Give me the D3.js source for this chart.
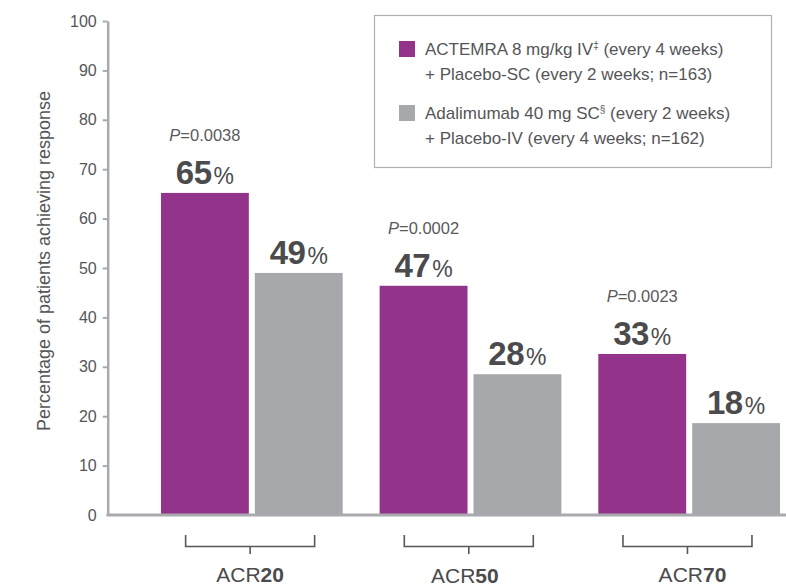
<!DOCTYPE html>
<html>
<head>
<meta charset="utf-8">
<script src="https://cdn.jsdelivr.net/npm/d3@7"></script>
<style>
  html, body { margin: 0; padding: 0; background: #fff; }
  svg { display: block; font-family: "Liberation Sans", Arial, sans-serif; }
</style>
</head>
<body>
<svg id="chart" width="786" height="586"></svg>
<script>
// ---- data ----
const categories = ["ACR20", "ACR50", "ACR70"];
const categoryPrefix = ["ACR", "ACR", "ACR"];
const categoryNumber = ["20", "50", "70"];
const seriesKeys = ["actemra", "adalimumab"];
const actemraValues = [65.2, 46.4, 32.6];
const adalimumabValues = [49.0, 28.5, 18.6];
const actemraLabels = ["65", "47", "33"];
const adalimumabLabels = ["49", "28", "18"];
const pValues = ["=0.0038", "=0.0002", "=0.0023"];
const yTicks = [0, 10, 20, 30, 40, 50, 60, 70, 80, 90, 100];
const legendLines = [
  [{t: "ACTEMRA 8 mg/kg IV"}, {t: "‡", sup: true}, {t: " (every 4 weeks)"}],
  [{t: "+ Placebo-SC (every 2 weeks; n=163)"}],
  [{t: "Adalimumab 40 mg SC"}, {t: "§", sup: true}, {t: " (every 2 weeks)"}],
  [{t: "+ Placebo-IV (every 4 weeks; n=162)"}]
];
const yTitle = "Percentage of patients achieving response";

const colors = { actemra: "#93338a", adalimumab: "#a7a8ab" };
const textColor = "#555558";
const axisColor = "#a9aaad";

const svg = d3.select("#chart");

const y = d3.scaleLinear().domain([0, 100]).range([515, 21]);
const x0 = d3.scaleBand().domain(categories).range([142.5, 798.5])
  .paddingInner(37 / 219).paddingOuter(37 / 219 / 2);
const x1 = d3.scaleBand().domain(seriesKeys).range([0, x0.bandwidth()])
  .paddingInner(6 / 94).paddingOuter(0);
const center = c => x0(c) + x0.bandwidth() / 2;

const rows = categories.map((c, i) => ({
  cat: c,
  values: [
    { key: "actemra", v: actemraValues[i], label: actemraLabels[i] },
    { key: "adalimumab", v: adalimumabValues[i], label: adalimumabLabels[i] }
  ],
  p: pValues[i]
}));

// Y axis
const yAxis = d3.axisLeft(y).tickValues(yTicks).tickSize(5).tickSizeOuter(0).tickPadding(6);
const gy = svg.append("g").attr("transform", "translate(107.7,0)").call(yAxis);
gy.select(".domain").attr("stroke", axisColor).attr("stroke-width", 2.5);
gy.selectAll(".tick line").attr("stroke", axisColor).attr("stroke-width", 2)
  .filter(d => d === 0).remove();
gy.selectAll(".tick text").attr("fill", textColor).style("font-size", "16px")
  .style("font-family", "'Liberation Sans', Arial, sans-serif");

// Y title
svg.append("text")
  .attr("transform", `translate(50,261) rotate(-90)`)
  .attr("text-anchor", "middle")
  .attr("fill", textColor)
  .style("font-size", "18px")
  .text(yTitle);

// Bars
const groups = svg.append("g").selectAll("g").data(rows).join("g")
  .attr("transform", d => `translate(${x0(d.cat)},0)`);

groups.selectAll("rect").data(d => d.values).join("rect")
  .attr("x", d => x1(d.key))
  .attr("y", d => y(d.v))
  .attr("width", x1.bandwidth())
  .attr("height", d => y(0) - y(d.v))
  .attr("fill", d => colors[d.key]);

// Value labels
const vl = groups.selectAll("text.val").data(d => d.values).join("text")
  .attr("class", "val")
  .attr("x", d => x1(d.key) + x1.bandwidth() / 2)
  .attr("y", d => y(d.v) - 9)
  .attr("text-anchor", "middle")
  .attr("fill", "#4b4b4d");
vl.append("tspan").style("font-size", "33px").style("font-weight", "bold")
  .style("letter-spacing", "-0.5px").text(d => d.label);
vl.append("tspan").style("font-size", "23px").attr("dx", 2).text("%");

// P values
const pl = groups.append("text")
  .attr("x", x1("actemra") + x1.bandwidth() / 2)
  .attr("y", d => y(d.values[0].v) - 52)
  .attr("text-anchor", "middle")
  .attr("fill", "#5a5a5c")
  .style("font-size", "16.5px");
pl.append("tspan").style("font-style", "italic").text("P");
pl.append("tspan").text(d => d.p);

// Bottom axis line
svg.append("line")
  .attr("x1", 107.7 - 1.25).attr("x2", 786)
  .attr("y1", y(0)).attr("y2", y(0))
  .attr("stroke", axisColor).attr("stroke-width", 3);

// Category brackets
const labelShift = [0, -4, 5];
const labelBase = [581.5, 583, 582];
const br = svg.append("g").selectAll("g").data(categories).join("g")
  .attr("transform", c => `translate(${center(c) - 1.7},0)`);
br.append("path")
  .attr("d", "M-64.5,535V546.5H64.5V535M0,546.5V554")
  .attr("fill", "none").attr("stroke", "#58585a").attr("stroke-width", 1.6);
const cl = br.append("text")
  .attr("x", (c, i) => labelShift[i])
  .attr("y", (c, i) => labelBase[i])
  .attr("text-anchor", "middle")
  .attr("fill", "#4b4b4d")
  .style("font-size", "21px");
cl.append("tspan").text((c, i) => categoryPrefix[i]);
cl.append("tspan").style("font-weight", "bold").text((c, i) => categoryNumber[i]);

// Legend
const lg = svg.append("g");
lg.append("rect").attr("x", 374.5).attr("y", 15.5).attr("width", 397).attr("height", 152)
  .attr("fill", "#fff").attr("stroke", "#b0b1b3").attr("stroke-width", 1.2);
seriesKeys.forEach((k, i) => {
  lg.append("rect").attr("x", 399).attr("y", 41 + i * 64).attr("width", 16).attr("height", 16)
    .attr("fill", colors[k]);
});
legendLines.forEach((parts, i) => {
  const t = lg.append("text")
    .attr("x", 425)
    .attr("y", 55 + Math.floor(i / 2) * 63.5 + (i % 2) * 25)
    .attr("fill", textColor)
    .style("font-size", "17px");
  parts.forEach(p => {
    const s = t.append("tspan").text(p.t);
    if (p.sup) s.style("font-size", "10px").attr("dy", -6);
    else if (t.selectAll("tspan").size() > 1) s.attr("dy", 6);
  });
});
</script>
</body>
</html>
